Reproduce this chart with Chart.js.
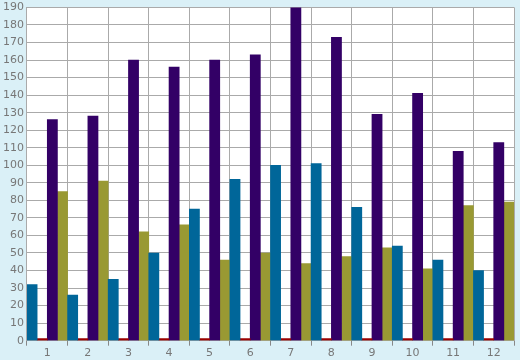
<!DOCTYPE html>
<html>
<head>
<meta charset="utf-8">
<script src="https://cdn.jsdelivr.net/npm/chart.js@4/dist/chart.umd.min.js"></script>
<style>
  html, body { margin: 0; padding: 0; background: #daf0f7; }
  #chart { display: block; }
</style>
</head>
<body>
<canvas id="chart" width="520" height="360"></canvas>
<script>
// 월별 데이터
const months = ['1', '2', '3', '4', '5', '6', '7', '8', '9', '10', '11', '12'];
const blueValues = [32, 26, 35, 50, 75, 92, 100, 101, 76, 54, 46, 40];
const redValues = [0, 0, 0, 0, 0, 0, 0, 0, 0, 0, 0, 0];
const purpleValues = [126, 128, 160, 156, 160, 163, 190, 173, 129, 141, 108, 113];
const oliveValues = [85, 91, 62, 66, 46, 50, 44, 48, 53, 41, 77, 79];

// 플롯 영역 흰색 배경
const plotBg = {
  id: 'plotBg',
  beforeDraw(chart) {
    const a = chart.chartArea;
    const c = chart.ctx;
    c.save();
    c.fillStyle = '#ffffff';
    c.fillRect(a.left, a.top, a.right - a.left, a.bottom - a.top);
    c.restore();
  }
};

const ctx = document.getElementById('chart').getContext('2d');
new Chart(ctx, {
  type: 'bar',
  data: {
    labels: months,
    datasets: [
      { data: blueValues, backgroundColor: '#006699' },
      { data: redValues, backgroundColor: '#990000', minBarLength: 2 },
      { data: purpleValues, backgroundColor: '#330066' },
      { data: oliveValues, backgroundColor: '#999933' }
    ]
  },
  options: {
    responsive: false,
    animation: false,
    barPercentage: 1,
    categoryPercentage: 1,
    layout: { padding: { top: 0, right: 6, left: 0, bottom: 0 } },
    plugins: { legend: { display: false }, tooltip: { enabled: false } },
    scales: {
      x: {
        grid: { offset: true, color: '#aaaaaa', tickLength: 5, tickColor: '#888888' },
        border: { color: '#aaaaaa' },
        ticks: { color: '#777777', font: { family: 'DejaVu Sans', size: 11, lineHeight: 1.3 }, padding: 0 }
      },
      y: {
        min: 0,
        max: 190,
        grid: { color: '#aaaaaa', drawTicks: false },
        border: { color: '#aaaaaa' },
        ticks: { stepSize: 10, color: '#777777', font: { family: 'DejaVu Sans', size: 11, lineHeight: 0.8 }, padding: 3 }
      }
    }
  },
  plugins: [plotBg]
});
</script>
</body>
</html>
